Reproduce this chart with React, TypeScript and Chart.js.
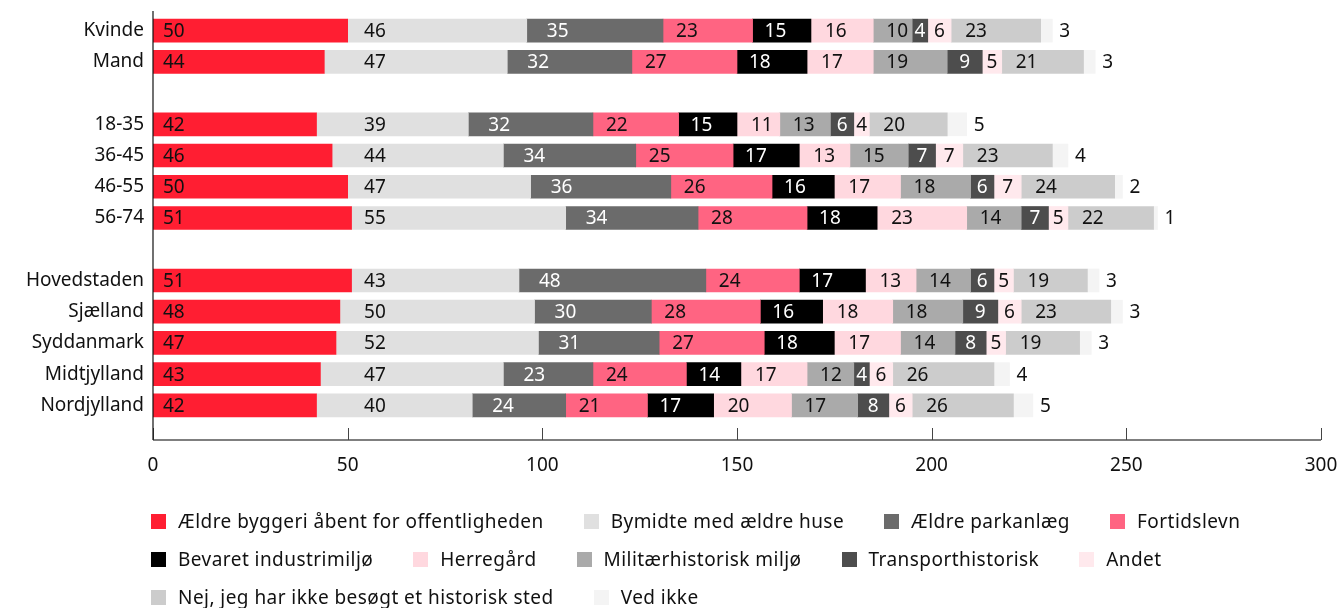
import React, { useEffect, useRef } from "react";
import { Chart, registerables } from "chart.js";

Chart.register(...registerables);

const FONT = "'Noto Sans', sans-serif";

const categories = [
  "Kvinde", "Mand", "",
  "18-35", "36-45", "46-55", "56-74", "",
  "Hovedstaden", "Sjælland", "Syddanmark", "Midtjylland", "Nordjylland",
];

const seriesNames = [
  "Ældre byggeri åbent for offentligheden",
  "Bymidte med ældre huse",
  "Ældre parkanlæg",
  "Fortidslevn",
  "Bevaret industrimiljø",
  "Herregård",
  "Militærhistorisk miljø",
  "Transporthistorisk",
  "Andet",
  "Nej, jeg har ikke besøgt et historisk sted",
  "Ved ikke",
];

// one value per category row (null = spacer row)
const aeldreByggeri = [50, 44, null, 42, 46, 50, 51, null, 51, 48, 47, 43, 42];
const bymidte = [46, 47, null, 39, 44, 47, 55, null, 43, 50, 52, 47, 40];
const parkanlaeg = [35, 32, null, 32, 34, 36, 34, null, 48, 30, 31, 23, 24];
const fortidslevn = [23, 27, null, 22, 25, 26, 28, null, 24, 28, 27, 24, 21];
const industrimiljoe = [15, 18, null, 15, 17, 16, 18, null, 17, 16, 18, 14, 17];
const herregaard = [16, 17, null, 11, 13, 17, 23, null, 13, 18, 17, 17, 20];
const militaer = [10, 19, null, 13, 15, 18, 14, null, 14, 18, 14, 12, 17];
const transport = [4, 9, null, 6, 7, 6, 7, null, 6, 9, 8, 4, 8];
const andet = [6, 5, null, 4, 7, 7, 5, null, 5, 6, 5, 6, 6];
const ikkeBesoegt = [23, 21, null, 20, 23, 24, 22, null, 19, 23, 19, 26, 26];
const vedIkke = [3, 3, null, 5, 4, 2, 1, null, 3, 3, 3, 4, 5];

const seriesValues = [
  aeldreByggeri, bymidte, parkanlaeg, fortidslevn, industrimiljoe,
  herregaard, militaer, transport, andet, ikkeBesoegt, vedIkke,
];

const xTicks = [0, 50, 100, 150, 200, 250, 300];

const colors = [
  "#FF1E32", "#E0E0E0", "#6B6B6B", "#FF6482", "#000000", "#FFD8DF",
  "#AAAAAA", "#4D4D4D", "#FFE9ED", "#CCCCCC", "#F4F4F4",
];
const labelColors = [
  "#111", "#111", "#fff", "#111", "#fff", "#111", "#111", "#fff", "#111", "#111", "#111",
];
const labelPads = [10, 12.5, 20, 13, 12, 14, 13, 12, 12, 14, 0];

const segLabels = {
  id: "segLabels",
  afterDatasetsDraw(chart: any) {
    const ctx = chart.ctx;
    ctx.save();
    ctx.font = `19px ${FONT}`;
    ctx.textBaseline = "middle";
    ctx.textAlign = "left";
    const n = chart.data.datasets.length;
    const digitW = ctx.measureText("0").width;
    chart.data.datasets.forEach((ds: any, di: number) => {
      const meta = chart.getDatasetMeta(di);
      let colStart = -Infinity;
      if (di === 1) {
        meta.data.forEach((bar: any, i: number) => {
          if (ds.data[i] != null) colStart = Math.max(colStart, bar.base);
        });
      }
      meta.data.forEach((bar: any, i: number) => {
        const v = ds.data[i];
        if (v == null) return;
        const { x, y, base } = bar.getProps(["x", "y", "base"], true);
        const text = String(v);
        let tx: number;
        if (di === n - 1) {
          tx = x + 7;
        } else {
          const w = x - base;
          const pad = Math.min(labelPads[di], Math.max(0, (w - digitW) / 2));
          tx = (di === 1 ? colStart : base) + pad;
        }
        ctx.fillStyle = labelColors[di];
        ctx.fillText(text, tx, y + 1);
      });
    });
    ctx.restore();
  },
};

const axesLines = {
  id: "axesLines",
  afterDraw(chart: any) {
    const ctx = chart.ctx;
    const area = chart.chartArea;
    const xs = chart.scales.x;
    const axisY = area.bottom + 19;
    ctx.save();
    // x axis baseline
    ctx.strokeStyle = "#555";
    ctx.lineWidth = 1.5;
    ctx.beginPath();
    ctx.moveTo(area.left, axisY);
    ctx.lineTo(area.right, axisY);
    ctx.stroke();
    // tick marks pointing up
    ctx.lineWidth = 1;
    ctx.strokeStyle = "#444";
    xTicks.forEach((t) => {
      const px = Math.round(xs.getPixelForValue(t)) + 0.5;
      ctx.beginPath();
      ctx.moveTo(px, axisY - 12);
      ctx.lineTo(px, axisY);
      ctx.stroke();
    });
    // y axis line
    ctx.strokeStyle = "#111";
    ctx.lineWidth = 1.2;
    ctx.beginPath();
    ctx.moveTo(area.left, area.top - 4);
    ctx.lineTo(area.left, axisY);
    ctx.stroke();
    ctx.restore();
  },
};

export default function App() {
  const canvasRef = useRef<HTMLCanvasElement | null>(null);

  useEffect(() => {
    if (!canvasRef.current) return;
    Chart.defaults.font.family = FONT;
    Chart.defaults.font.size = 19;
    Chart.defaults.color = "#111";
    const chart = new Chart(canvasRef.current, {
      type: "bar",
      data: {
        labels: categories,
        datasets: seriesNames.map((name, i) => ({
          label: name,
          data: seriesValues[i],
          backgroundColor: colors[i],
          borderWidth: 0,
          barThickness: 23,
        })),
      },
      options: {
        indexAxis: "y",
        animation: false,
        responsive: true,
        maintainAspectRatio: false,
        layout: { padding: { top: 15, right: 18, left: 0, bottom: 0 } },
        plugins: {
          legend: { display: false },
          tooltip: { enabled: false },
        },
        scales: {
          x: {
            stacked: true,
            min: 0,
            max: 300,
            grid: { display: false, drawTicks: false },
            border: { display: false },
            ticks: { stepSize: 50, padding: 33, font: { size: 19 } },
            afterFit: (s: any) => {
              s.height = 187;
              s.paddingLeft = 0;
              s.paddingRight = 0;
            },
          },
          y: {
            stacked: true,
            grid: { display: false, drawTicks: false },
            border: { display: false },
            ticks: { padding: 9, autoSkip: false, font: { size: 19 } },
            afterFit: (s: any) => {
              s.width = 153;
              s.paddingTop = 0;
              s.paddingBottom = 0;
            },
          },
        },
      },
      plugins: [segLabels, axesLines],
    });
    return () => chart.destroy();
  }, []);

  return (
    <div
      style={{
        position: "fixed",
        left: 0,
        top: 0,
        width: 1339,
        height: 608,
        background: "#fff",
        fontFamily: FONT,
      }}
    >
      <canvas ref={canvasRef} />
      <div
        style={{
          position: "absolute",
          left: 151,
          top: 510,
          width: 1180,
          display: "flex",
          flexWrap: "wrap",
          columnGap: 40,
          rowGap: 16,
        }}
      >
        {seriesNames.map((name, i) => (
          <div
            key={name}
            style={{
              display: "flex",
              alignItems: "center",
              height: 22,
              fontSize: 19,
              letterSpacing: 0.45,
              color: "#111",
            }}
          >
            <span
              style={{
                display: "inline-block",
                width: 15,
                height: 15,
                background: colors[i],
                marginRight: 12,
              }}
            />
            <span style={{ whiteSpace: "nowrap" }}>{name}</span>
          </div>
        ))}
      </div>
    </div>
  );
}
